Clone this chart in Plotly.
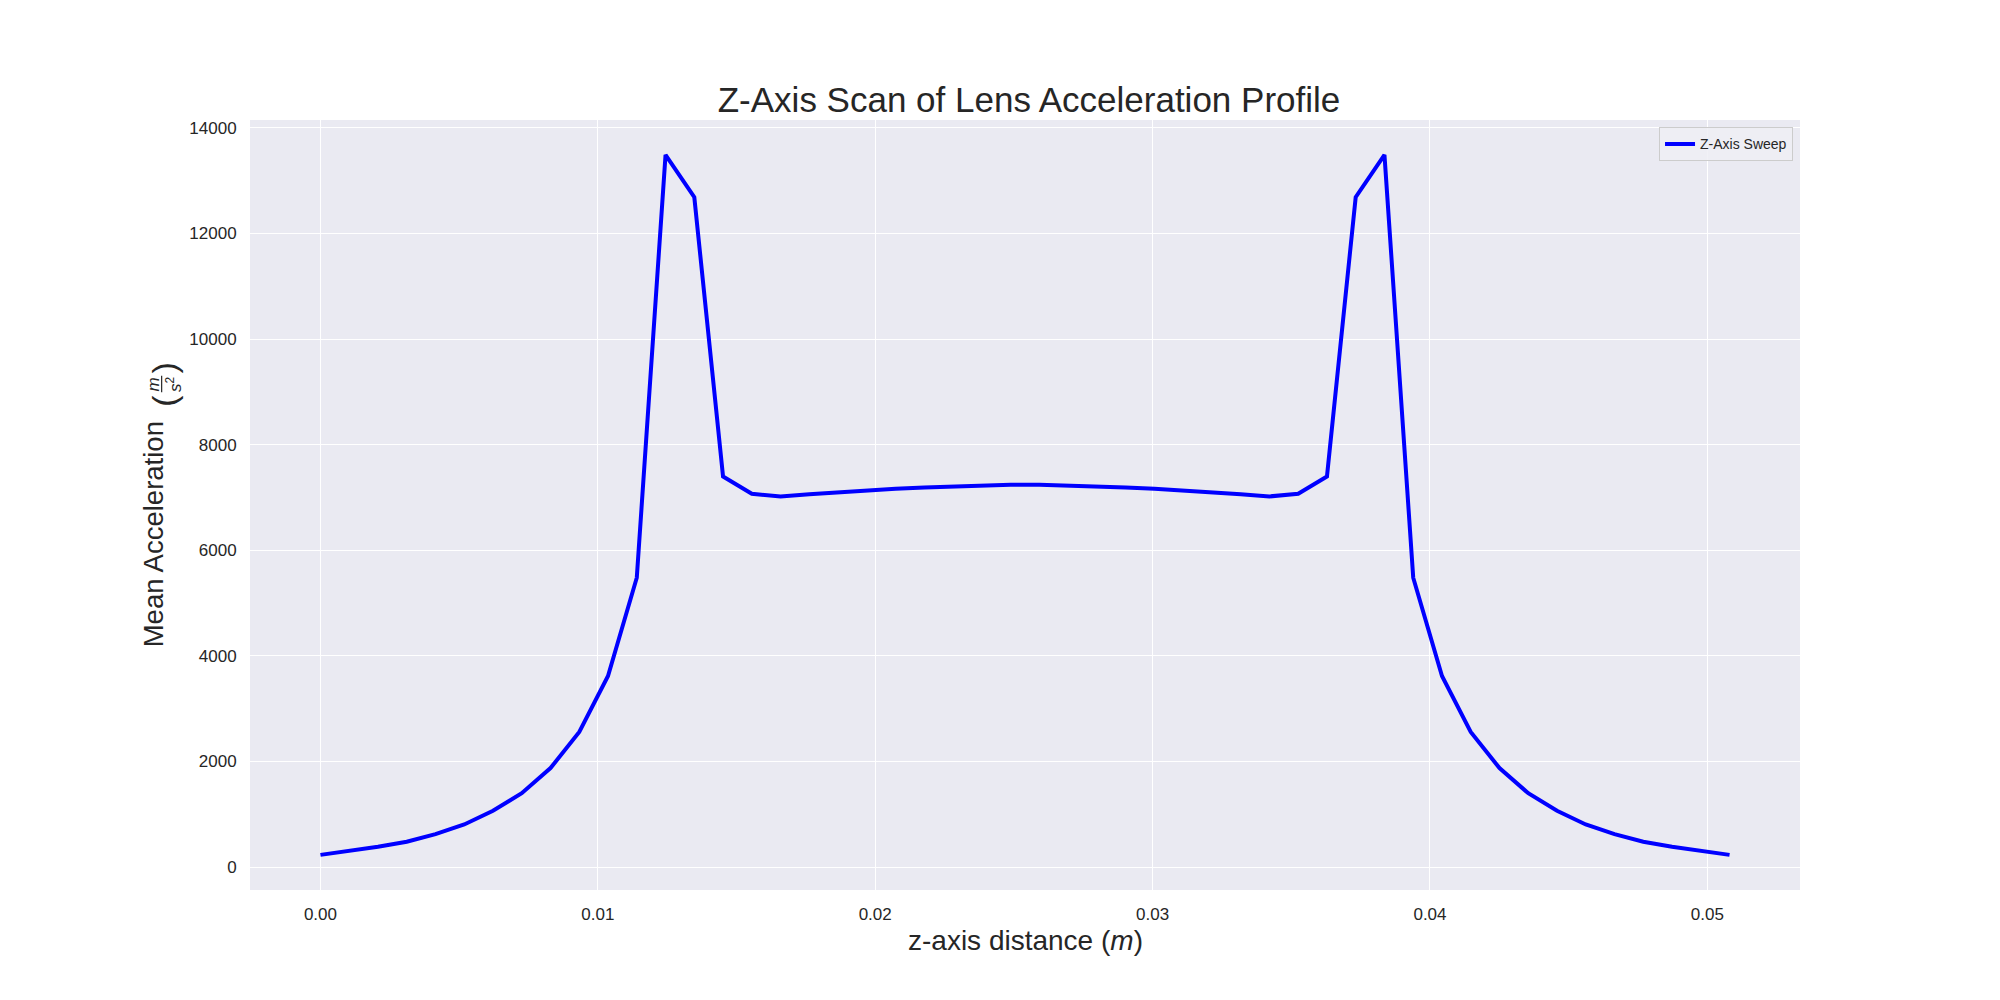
import plotly.graph_objects as go

# z-axis positions of the sweep (m)
z_pos = [0.0, 0.001037, 0.002073, 0.003110, 0.004147, 0.005184, 0.006220, 0.007257,
         0.008294, 0.009331, 0.010367, 0.011404, 0.012441, 0.013478, 0.014514, 0.015551,
         0.016588, 0.017624, 0.018661, 0.019698, 0.020735, 0.021771, 0.022808, 0.023845,
         0.024882, 0.025918, 0.026955, 0.027992, 0.029029, 0.030065, 0.031102, 0.032139,
         0.033176, 0.034212, 0.035249, 0.036286, 0.037322, 0.038359, 0.039396, 0.040433,
         0.041469, 0.042506, 0.043543, 0.044580, 0.045616, 0.046653, 0.047690, 0.048727,
         0.049763, 0.050800]

# mean acceleration at each position (m/s^2)
mean_acc = [230, 300, 385, 480, 623, 807, 1067, 1398, 1874, 2560, 3619, 5480,
            13490, 12687, 7398, 7069, 7020, 7060, 7100, 7135, 7165, 7190, 7210, 7228,
            7240, 7240, 7228, 7210, 7190, 7165, 7135, 7100, 7060, 7020, 7069, 7398,
            12687, 13490, 5480, 3619, 2560, 1874, 1398, 1067, 807, 623, 480, 385,
            300, 230]

x_ticks = [0.0, 0.01, 0.02, 0.03, 0.04, 0.05]
y_ticks = [0, 2000, 4000, 6000, 8000, 10000, 12000, 14000]

FONT = 'Liberation Sans, Arial, sans-serif'
TEXT = '#262626'

fig = go.Figure()
fig.add_trace(go.Scatter(
    x=z_pos,
    y=mean_acc,
    mode='lines',
    name='Z-Axis Sweep',
    line=dict(color='#0000FF', width=4)
))

fig.update_layout(
    width=2000,
    height=1000,
    margin=dict(l=250, r=200, t=120, b=110),
    paper_bgcolor='white',
    plot_bgcolor='#EAEAF2',
    font=dict(family=FONT, color=TEXT),
    title=dict(
        text='Z-Axis Scan of Lens Acceleration Profile',
        font=dict(size=35, color=TEXT),
        x=0.5145, xanchor='center',
        y=0.90, yanchor='middle', yref='container'
    ),
    showlegend=True,
    legend=dict(
        x=0.9955, xanchor='right',
        y=0.9905, yanchor='top',
        bgcolor='rgba(238,238,244,0.85)',
        bordercolor='#CCCCCC',
        borderwidth=1,
        font=dict(size=14, color=TEXT)
    ),
)

fig.update_xaxes(
    range=[-0.00254, 0.05334],
    tickvals=x_ticks,
    tickformat='.2f',
    showgrid=True, gridcolor='white', gridwidth=1.3,
    zeroline=False, showline=False,
    ticks='outside', ticklen=9, tickcolor='rgba(0,0,0,0)',
    tickfont=dict(size=17, color=TEXT)
)
fig.update_yaxes(
    range=[-435, 14150],
    tickvals=y_ticks,
    tickformat='d',
    showgrid=True, gridcolor='white', gridwidth=1.3,
    zeroline=False, showline=False,
    ticks='outside', ticklen=9, tickcolor='rgba(0,0,0,0)',
    tickfont=dict(size=17, color=TEXT)
)

# axis titles as annotations (the y label carries a stacked fraction)
fig.add_annotation(text='z-axis distance (<i>m</i>)', xref='paper', yref='paper',
                   x=0.5, y=-0.065, xanchor='center', yanchor='middle',
                   showarrow=False, font=dict(size=28, color=TEXT))
fig.add_annotation(text='Mean Acceleration', xref='paper', yref='paper',
                   x=-0.0625, y=0.4621, xanchor='center', yanchor='middle',
                   textangle=-90, showarrow=False, font=dict(size=27.5, color=TEXT))
fig.add_annotation(text='(', xref='paper', yref='paper',
                   x=-0.0555, y=0.6355, xanchor='center', yanchor='middle',
                   textangle=-90, showarrow=False, font=dict(size=34, color=TEXT))
fig.add_annotation(text='<i>m</i><br><i>s</i><sup>2</sup>', xref='paper', yref='paper',
                   x=-0.0555, y=0.6571, xanchor='center', yanchor='middle',
                   textangle=-90, showarrow=False, font=dict(size=17, color=TEXT))
fig.add_annotation(text=')', xref='paper', yref='paper',
                   x=-0.0555, y=0.6785, xanchor='center', yanchor='middle',
                   textangle=-90, showarrow=False, font=dict(size=34, color=TEXT))
# fraction bar
fig.add_shape(type='line', xref='paper', yref='paper',
              x0=-0.057, x1=-0.057, y0=0.6465, y1=0.6680,
              line=dict(color=TEXT, width=1.2))

fig.write_html("out.html", config={'displayModeBar': False},
               post_script="document.body.style.margin='0';")
